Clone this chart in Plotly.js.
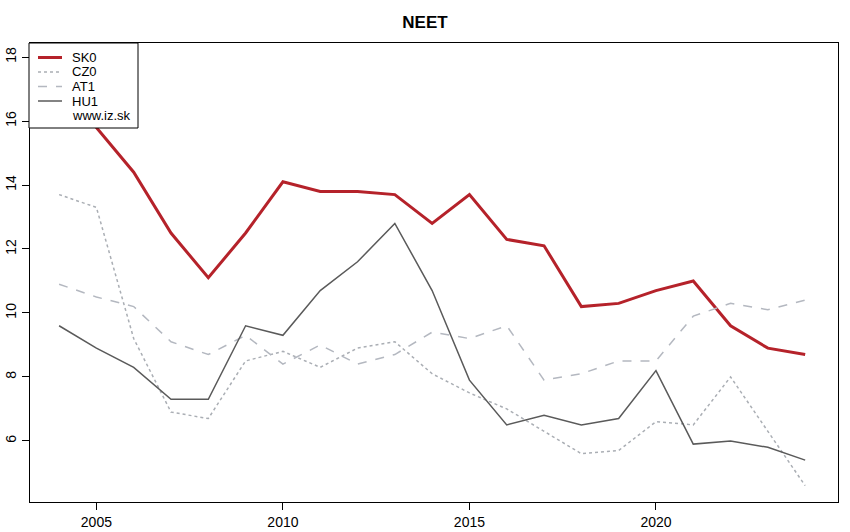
<!DOCTYPE html>
<html><head><meta charset="utf-8">
<script src="https://cdn.plot.ly/plotly-3.0.1.min.js"></script>
<style>body{margin:0;background:#fff}#c{width:850px;height:532px}</style>
</head><body><div id="c"></div>
<script>
const years = [2004,2005,2006,2007,2008,2009,2010,2011,2012,2013,2014,2015,2016,2017,2018,2019,2020,2021,2022,2023,2024];
const SK0 = [16.9,15.8,14.4,12.5,11.1,12.5,14.1,13.8,13.8,13.7,12.8,13.7,12.3,12.1,10.2,10.3,10.7,11.0,9.6,8.9,8.7];
const CZ0 = [13.7,13.3,9.2,6.9,6.7,8.5,8.8,8.3,8.9,9.1,8.1,7.5,7.0,6.3,5.6,5.7,6.6,6.5,8.0,6.3,4.6];
const AT1 = [10.9,10.5,10.2,9.1,8.7,9.3,8.4,9.0,8.4,8.7,9.4,9.2,9.6,7.9,8.1,8.5,8.5,9.9,10.3,10.1,10.4];
const HU1 = [9.6,8.9,8.3,7.3,7.3,9.6,9.3,10.7,11.6,12.8,10.7,7.9,6.5,6.8,6.5,6.7,8.2,5.9,6.0,5.8,5.4];
const seriesNames = ['SK0','CZ0','AT1','HU1'];
const legendNote = 'www.iz.sk';
const xTicks = [2005,2010,2015,2020];
const yTicks = [6,8,10,12,14,16,18];

const styles = [
  {color: '#b5222a', width: 3},
  {color: '#aaaeb4', width: 1.5, dash: 'dot'},
  {color: '#b4b8c0', width: 1.5, dash: 'dash'},
  {color: '#5a5a5a', width: 1.5}
];
const seriesData = [SK0, CZ0, AT1, HU1];
const traces = seriesData.map((d, i) => ({x: years, y: d, name: seriesNames[i], mode: 'lines', line: styles[i]}));

// plot area in pixels: left 30, right 838, top 43, bottom 502
const L = 30, R = 838, T = 43, B = 502;
const px = v => (v - L) / (R - L);
const py = v => (B - v) / (B - T);

const shapes = [{type: 'rect', xref: 'paper', yref: 'paper', x0: px(29), x1: px(138), y0: py(128), y1: py(43),
                 fillcolor: '#fff', line: {color: '#000', width: 1}, layer: 'above'}];
const annotations = [];
const rowY = [57.5, 72, 86.5, 101, 115.5];
seriesNames.forEach((n, i) => {
  shapes.push({type: 'line', xref: 'paper', yref: 'paper', x0: px(38), x1: px(62), y0: py(rowY[i]), y1: py(rowY[i]),
               line: Object.assign({}, styles[i]), layer: 'above'});
  annotations.push({xref: 'paper', yref: 'paper', x: px(71), y: py(rowY[i]), xanchor: 'left', yanchor: 'middle',
                    text: n, showarrow: false, borderpad: 0, font: {size: 13, color: '#000'}});
});
annotations.push({xref: 'paper', yref: 'paper', x: px(71), y: py(rowY[4]), xanchor: 'left', yanchor: 'middle',
                  text: legendNote, showarrow: false, borderpad: 0, font: {size: 13, color: '#000'}});

const layout = {
  width: 850, height: 532,
  margin: {l: 30, r: 12, t: 43, b: 30},
  paper_bgcolor: '#fff', plot_bgcolor: '#fff',
  font: {family: 'Liberation Sans, Arial, sans-serif', size: 14, color: '#000'},
  title: {text: '<b>NEET</b>', x: 0.5, xanchor: 'center', y: 0.958, yanchor: 'middle', font: {size: 17, color: '#000'}},
  showlegend: false,
  shapes: shapes,
  annotations: annotations,
  xaxis: {range: [2003.22, 2024.88], tickvals: xTicks, ticktext: xTicks.map(String), ticks: 'outside', ticklen: 7,
          tickfont: {size: 14}, showgrid: false, zeroline: false, showline: true, linecolor: '#000', linewidth: 1, mirror: true, tickcolor: '#000'},
  yaxis: {range: [4.09, 18.44], tickvals: yTicks, ticktext: yTicks.map(String), ticks: 'outside', ticklen: 7, tickangle: -90,
          tickfont: {size: 14}, showgrid: false, zeroline: false, showline: true, linecolor: '#000', linewidth: 1, mirror: true, tickcolor: '#000'}
};
Plotly.newPlot('c', traces, layout, {staticPlot: true});
</script></body></html>
